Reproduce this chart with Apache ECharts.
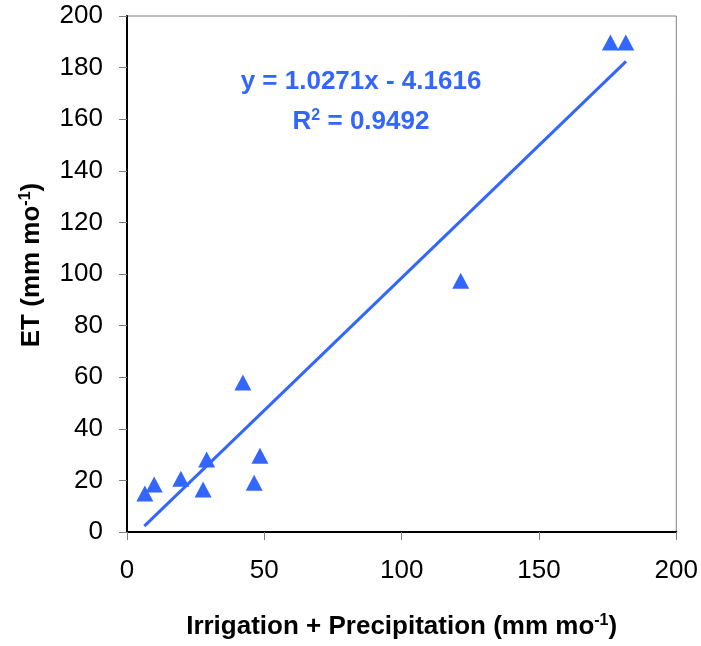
<!DOCTYPE html>
<html>
<head>
<meta charset="utf-8">
<script src="https://cdn.jsdelivr.net/npm/echarts@6/dist/echarts.min.js"></script>
<style>
html,body{margin:0;padding:0;background:#fff;}
#chart{width:701px;height:646px;}
</style>
</head>
<body>
<div id="chart"></div>
<script>
// Observed points: irrigation + precipitation (x) vs ET (y), mm/month
var xValues = [6.5, 9.9, 19.6, 27.7, 29.0, 42.2, 46.3, 48.4, 121.5, 176.0, 181.6];
var yValues = [14.9, 18.4, 20.6, 16.5, 28.1, 57.9, 19.1, 29.6, 97.4, 189.7, 189.7];
// Trend line endpoints as drawn
var trendX = [6.3, 181.7];
var trendY = [2.3, 182.4];
var equationText = 'y = 1.0271x - 4.1616';
var r2Text = '0.9492';
var xTitle = 'Irrigation + Precipitation (mm mo';
var yTitle = 'ET (mm mo';

var blue = '#3366ff';
var font = '"Liberation Sans", Arial, sans-serif';

var pts = xValues.map(function (x, i) { return [x, yValues[i]]; });
var trend = trendX.map(function (x, i) { return [x, trendY[i]]; });

function richName(fs) {
  return {
    b: { fontSize: fs, fontWeight: 'bold', color: '#000', fontFamily: font },
    s: { fontSize: 16, fontWeight: 'bold', color: '#000', fontFamily: font, verticalAlign: 'top', padding: [0, 0, 12, 0] }
  };
}

var chart = echarts.init(document.getElementById('chart'));
chart.setOption({
  animation: false,
  backgroundColor: '#fff',
  grid: {
    left: 127, right: 24, top: 16, bottom: 114,
    show: true, borderColor: '#808080', borderWidth: 1, backgroundColor: 'transparent'
  },
  xAxis: {
    type: 'value', min: 0, max: 200, interval: 50,
    axisLine: { show: true, onZero: false, lineStyle: { color: '#000', width: 2 } },
    axisTick: { show: true, inside: false, length: 8, lineStyle: { color: '#808080', width: 1 } },
    axisLabel: { color: '#000', fontSize: 26, fontFamily: font, margin: 26 },
    splitLine: { show: false },
    name: '{b|' + xTitle + '}{s|-1}{b|)}', nameLocation: 'middle', nameGap: 81,
    nameTextStyle: { rich: richName(26) }
  },
  yAxis: {
    type: 'value', min: 0, max: 200, interval: 20,
    axisLine: { show: true, onZero: false, lineStyle: { color: '#000', width: 2 } },
    axisTick: { show: true, inside: false, length: 8, lineStyle: { color: '#808080', width: 1 } },
    axisLabel: { color: '#000', fontSize: 26, fontFamily: font, margin: 24 },
    splitLine: { show: false },
    name: '{b|' + yTitle + '}{s|-1}{b|)}', nameLocation: 'middle', nameGap: 81,
    nameTextStyle: { rich: richName(26), padding: [0, 0, 0, 18] }
  },
  series: [
    {
      type: 'line', data: trend, showSymbol: false, symbol: 'none',
      lineStyle: { color: blue, width: 3 }, z: 2, silent: true
    },
    {
      type: 'scatter', data: pts, symbol: 'triangle', symbolSize: [17, 16],
      itemStyle: { color: blue, opacity: 1 }, z: 3
    }
  ],
  graphic: [
    {
      type: 'text', z: 10, x: 361, y: 82,
      style: {
        text: equationText, fill: blue, font: 'bold 26px ' + font,
        textAlign: 'center', textVerticalAlign: 'middle'
      }
    },
    {
      type: 'text', z: 10, x: 361, y: 122,
      style: {
        text: '{r|R}{s|2}{r| = ' + r2Text + '}',
        textAlign: 'center', textVerticalAlign: 'middle',
        rich: {
          r: { fontSize: 26, fontWeight: 'bold', fill: blue, color: blue, fontFamily: font },
          s: { fontSize: 16, fontWeight: 'bold', fill: blue, color: blue, fontFamily: font, verticalAlign: 'top', padding: [0, 0, 12, 0] }
        }
      }
    }
  ]
});
</script>
</body>
</html>
